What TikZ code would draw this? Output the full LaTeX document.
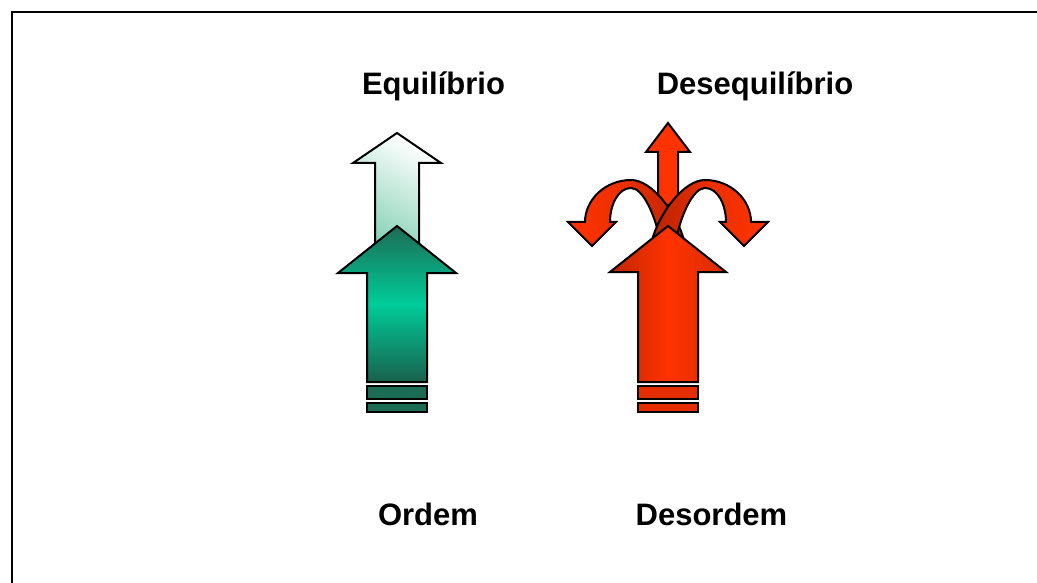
\documentclass[tikz,border=0pt]{standalone}
\usepackage{fontspec}
\setmainfont{Liberation Sans}
\definecolor{gdark}{HTML}{1C6B55}
\definecolor{gmid}{HTML}{00CC99}
\definecolor{glight}{HTML}{6CC8A6}
\definecolor{rbright}{HTML}{FF3300}
\definecolor{rdark}{HTML}{B52200}
\tikzset{
  outl/.style={draw=black, line width=2pt, line join=miter},
  lbl/.style={font=\fontsize{31pt}{36pt}\selectfont\bfseries, inner sep=0pt, anchor=base},
}
\begin{document}
\begin{tikzpicture}[x=1pt, y=-1pt]
\useasboundingbox (0,0) rectangle (1037,583);
\fill[white] (0,0) rectangle (1037,583);
% frame
\draw[line width=1.8pt] (12,583) -- (12,12) -- (1037,12);

% labels
\node[lbl] (equil) at (433.5,95) {Equilíbrio};
\node[lbl] (desequil) at (755,95) {Desequilíbrio};
\node[lbl] (ordem) at (428,525) {Ordem};
\node[lbl] (desordem) at (711.5,525) {Desordem};

% ---- green (Equilibrio / Ordem)
\path[outl, shading=axis, left color=white, right color=glight, shading angle=-30]
  (375,280) -- (375,163) -- (353,163) -- (397,133) -- (441,163) -- (419,163) -- (419,280) -- cycle;
\path[outl, top color=gdark, bottom color=gdark!90!black, middle color=gmid]
  (367,382) -- (367,273) -- (338,273) -- (397,226) -- (456,273) -- (427,273) -- (427,382) -- cycle;
\filldraw[outl, fill=gdark] (367,386) rectangle (427,399);
\filldraw[outl, fill=gdark] (367,403) rectangle (427,412);

% ---- red (Desequilibrio / Desordem)
\filldraw[outl, fill=rbright]
  (658,205) -- (658,152) -- (646,152) -- (668,123) -- (690,152) -- (678,152) -- (678,205) -- cycle;
% left curved arrow
\path[outl, left color=rbright, right color=rdark, middle color=rbright!92!black]
  (686,252) -- (684,240) .. controls (676,212) and (652,180) .. (631,180)
  .. controls (605,180) and (585,200) .. (585,222)
  -- (568,222) -- (592,246) -- (616,222) -- (610,222)
  .. controls (610,205) and (618,188) .. (631,188)
  .. controls (643,188) and (655,215) .. (660,240) -- (662,252) -- cycle;
% right curved arrow
\path[outl, left color=rdark, right color=rbright, middle color=rbright!92!black]
  (650,252) -- (652,240) .. controls (660,212) and (684,180) .. (705,180)
  .. controls (731,180) and (751,200) .. (751,222)
  -- (768,222) -- (744,246) -- (720,222) -- (726,222)
  .. controls (726,205) and (718,188) .. (705,188)
  .. controls (693,188) and (681,215) .. (676,240) -- (674,252) -- cycle;
% big red arrow
\path[outl, left color=rdark!85!rbright, right color=rbright!85!black, middle color=rbright]
  (638,382) -- (638,272) -- (610,272) -- (668,226) -- (726,272) -- (698,272) -- (698,382) -- cycle;
\filldraw[outl, fill=rbright!90!black] (638,386) rectangle (698,399);
\filldraw[outl, fill=rbright!90!black] (638,403) rectangle (698,412);
\end{tikzpicture}
\end{document}
